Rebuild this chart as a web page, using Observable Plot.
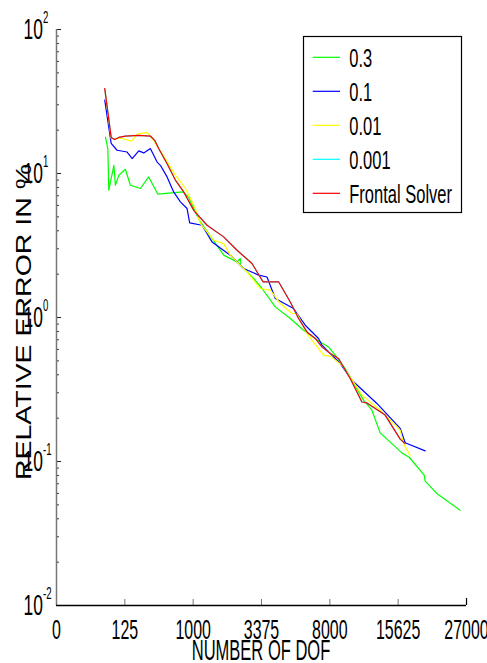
<!DOCTYPE html>
<html><head><meta charset="utf-8">
<script src="https://cdn.jsdelivr.net/npm/d3@7"></script>
<script src="https://cdn.jsdelivr.net/npm/@observablehq/plot@0.6"></script>
<style>
html,body{margin:0;padding:0;background:#fff;overflow:hidden;}
#chart{width:487px;height:663px;}
</style></head><body><div id="chart"></div>
<script>
// ---- data ----
const seriesNames = ["0.3", "0.1", "0.01", "0.001", "Frontal Solver"];
const seriesColors = ["#00ff00", "#0000ff", "#ffff00", "#00ffff", "#ff0000"];

const dof_03 = [46, 53, 56, 74, 80, 95, 128, 158, 231, 307, 408, 791, 904, 1072, 1166, 1474, 1829, 2305, 2433, 2433, 3000, 3400, 4103, 5005, 5908, 7187, 7887, 8484, 9429, 11335, 12290, 13285, 16137, 17226, 19467, 19627, 21553, 25756];
const err_03 = [17.9, 14.9, 7.66, 11.4, 8.29, 9.73, 10.7, 8.29, 7.87, 9.47, 7.18, 7.45, 6.85, 5.22, 4.61, 3.54, 2.71, 2.43, 2.57, 2.31, 1.87, 1.59, 1.185, 0.984, 0.816, 0.677, 0.625, 0.548, 0.442, 0.267, 0.227, 0.158, 0.1148, 0.1066, 0.0803, 0.073, 0.06, 0.0459];

const dof_01 = [44, 64, 87, 138, 170, 218, 260, 324, 399, 439, 530, 630, 745, 872, 925, 1208, 1474, 2058, 2567, 3234, 3654, 4103, 5219, 6030, 7049, 7327, 8186, 8947, 10099, 12884, 15901, 16605, 19627];
const err_01 = [32.3, 16.2, 14.5, 14.1, 12.7, 14.35, 13.9, 14.9, 12.0, 11.4, 9.47, 7.45, 6.35, 5.71, 4.54, 4.37, 3.35, 2.71, 2.19, 1.97, 1.91, 1.355, 1.155, 0.884, 0.715, 0.642, 0.548, 0.479, 0.367, 0.253, 0.170, 0.135, 0.1185];

const dof_001 = [44, 64, 111, 165, 205, 291, 342, 461, 658, 839, 1049, 1166, 1520, 1829, 2058, 2709, 3316, 3828, 4390, 5115, 5447, 6155, 7460, 8035, 9109, 9926, 11159, 13285, 15901, 16362, 17328];
const err_001 = [38.9, 17.5, 17.5, 16.8, 18.75, 19.3, 17.5, 13.8, 9.73, 7.87, 5.71, 4.5, 3.44, 3.26, 2.71, 2.07, 1.59, 1.55, 1.25, 1.066, 1.066, 0.774, 0.548, 0.539, 0.466, 0.387, 0.289, 0.227, 0.165, 0.133, 0.1106];

const dof_0001 = [44, 64, 77, 95, 128, 218, 324, 371, 418, 530, 658, 806, 1020, 1337, 1829, 2305, 2928, 3450, 4291, 5005, 5557, 6155, 6787, 7327, 8035, 8788, 9926, 11159, 11716, 13911, 14989, 15901, 16605];
const err_0001 = [38.9, 17.8, 17.2, 17.8, 18.2, 18.4, 18.2, 17.0, 14.9, 11.7, 9.0, 7.45, 5.5, 4.37, 3.63, 2.93, 2.37, 1.77, 1.77, 1.28, 0.984, 0.794, 0.715, 0.625, 0.562, 0.519, 0.377, 0.259, 0.255, 0.210, 0.170, 0.143, 0.133];

const dof_frontal = [44, 64, 77, 95, 128, 218, 324, 371, 418, 530, 658, 806, 1020, 1337, 1829, 2305, 2928, 3450, 4291, 5005, 5557, 6155, 6787, 7327, 8035, 8788, 9926, 11159, 11716, 13911, 14989, 15901, 16605];
const err_frontal = [38.9, 17.8, 17.2, 17.8, 18.2, 18.4, 18.2, 17.0, 14.9, 11.7, 9.0, 7.45, 5.5, 4.37, 3.63, 2.93, 2.37, 1.77, 1.77, 1.28, 0.984, 0.794, 0.715, 0.625, 0.562, 0.519, 0.377, 0.259, 0.255, 0.210, 0.170, 0.143, 0.133];

const xTicks = [0, 125, 1000, 3375, 8000, 15625, 27000];
const xTickLabels = ["0", "125", "1000", "3375", "8000", "15625", "27000"];
const yTicks = [0.01, 0.1, 1, 10, 100];
const yTickExponents = ["-2", "-1", "0", "1", "2"];
const yMinorTicks = [0.02,0.03,0.04,0.05,0.06,0.07,0.08,0.09,0.2,0.3,0.4,0.5,0.6,0.7,0.8,0.9,2,3,4,5,6,7,8,9,20,30,40,50,60,70,80,90];
const xTitle = "NUMBER OF DOF";
const yTitle = "RELATIVE ERROR IN %";

// ---- table ----
const allDof = [dof_03, dof_01, dof_001, dof_0001, dof_frontal];
const allErr = [err_03, err_01, err_001, err_0001, err_frontal];
const rows = [];
allDof.forEach((dofs, s) => dofs.forEach((d, i) => rows.push({series: seriesNames[s], dof: d, err: allErr[s][i]})));

const W = 487, H = 663, ML = 56, MR = 21, MT = 29, MB = 58;
const plotW = W - ML - MR, plotH = H - MT - MB;
const FONT = "'Liberation Sans', Arial, Helvetica, sans-serif";

const chart = Plot.plot({
  width: W, height: H,
  marginLeft: ML, marginRight: MR, marginTop: MT, marginBottom: MB,
  style: {background: "white", fontFamily: FONT, overflow: "visible"},
  x: {type: "pow", exponent: 1/3, domain: [0, 27000], axis: null},
  y: {type: "log", domain: [0.01, 100], axis: null},
  color: {domain: seriesNames, range: seriesColors},
  marks: [
    Plot.ruleY(yMinorTicks, {y: d => d, insetRight: plotW - 3, stroke: "#333", strokeWidth: 1}),
    Plot.ruleY(yTicks, {y: d => d, insetRight: plotW - 5, stroke: "#222", strokeWidth: 1}),
    Plot.ruleX(xTicks.slice(1, -1), {x: d => d, insetTop: plotH - 6, stroke: "#777", strokeWidth: 1}),
    Plot.ruleX(xTicks.slice(-1), {x: d => d, insetTop: plotH - 7, stroke: "#000", strokeWidth: 1.2}),
    Plot.line(rows, {x: "dof", y: "err", z: "series", stroke: "series", strokeWidth: 1.2}),
    Plot.ruleX([0], {x: d => d, stroke: "#777", strokeWidth: 1.5}),
    Plot.ruleY([0.01], {y: d => d, stroke: "#000", strokeWidth: 1.3}),
    Plot.text(xTicks, {x: d => d, frameAnchor: "bottom", dy: 33, lineAnchor: "bottom", textAnchor: "middle",
      text: (d, i) => xTickLabels[i], fontSize: 28, fill: "#000"}),
    Plot.text(yTicks, {y: d => d, frameAnchor: "left", dx: -33, lineAnchor: "middle", textAnchor: "start",
      text: () => "10", fontSize: 29, fill: "#000"}),
    Plot.text(yTicks, {y: d => d, frameAnchor: "left", dx: -13.5, dy: -11.8, lineAnchor: "middle", textAnchor: "start",
      text: (d, i) => yTickExponents[i], fontSize: 16, fill: "#000"})
  ]
});
document.getElementById("chart").appendChild(chart);

const svg = d3.select(chart);
function squeeze(nodes, sx) {
  nodes.forEach(t => {
    const xa = t.getAttribute("x");
    let pre = "";
    if (xa !== null && xa !== "" && !isNaN(+xa)) { pre = ` translate(${+xa},0)`; t.removeAttribute("x"); }
    t.setAttribute("transform", (t.getAttribute("transform") || "") + pre + ` scale(${sx},1)`);
  });
}
function textsWithFontSize(fs) {
  return Array.from(chart.querySelectorAll("text")).filter(t => {
    const p = t.closest("[font-size]");
    return p && parseFloat(p.getAttribute("font-size")) === fs;
  });
}
squeeze(textsWithFontSize(28), 0.57);
squeeze(textsWithFontSize(29), 0.6);
squeeze(textsWithFontSize(16), 0.6);

// axis titles
svg.append("text")
  .attr("transform", "translate(31,322) rotate(-90) scale(1,0.75)")
  .attr("text-anchor", "middle").attr("font-size", 28.5).attr("font-family", FONT).attr("fill", "#000")
  .text(yTitle);
svg.append("text")
  .attr("transform", "translate(261,660) scale(0.57,1)")
  .attr("text-anchor", "middle").attr("font-size", 29).attr("font-family", FONT).attr("fill", "#000")
  .text(xTitle);

// legend
const lg = svg.append("g").attr("class", "legend");
lg.append("rect").attr("x", 303.5).attr("y", 36.5).attr("width", 158).attr("height", 176)
  .attr("fill", "white").attr("stroke", "#000").attr("stroke-width", 1.2);
seriesNames.forEach((name, i) => {
  const yy = 57.3 + i * 34;
  lg.append("line").attr("x1", 312.7).attr("x2", 340).attr("y1", yy).attr("y2", yy)
    .attr("stroke", seriesColors[i]).attr("stroke-width", 1.2);
  lg.append("text").attr("transform", `translate(349.3,${yy + 9.5}) scale(0.66,1)`)
    .attr("text-anchor", "start")
    .attr("font-size", 25).attr("font-family", FONT).attr("fill", "#000").text(name);
});
</script>
</body></html>
